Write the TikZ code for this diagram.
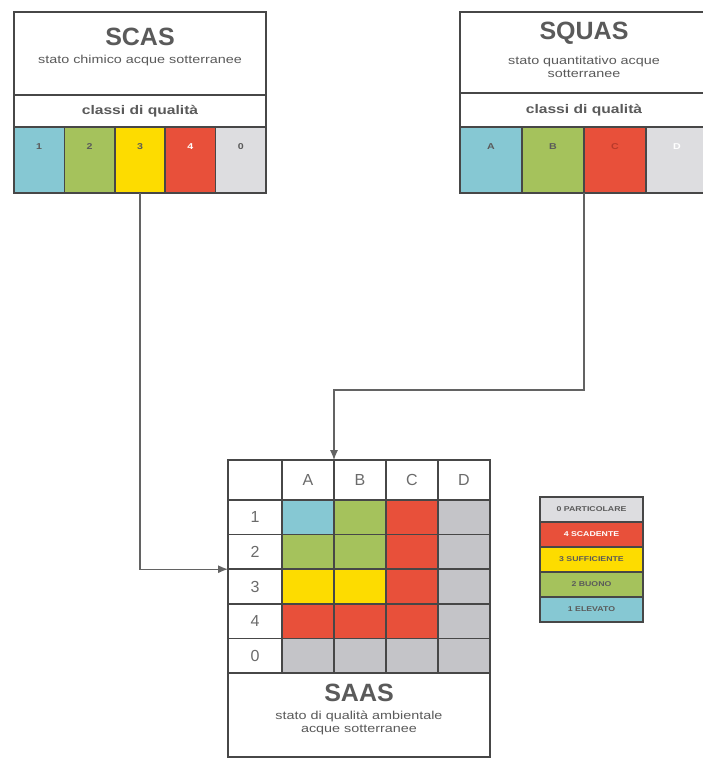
\documentclass[tikz,border=0pt]{standalone}
\usepackage{fontspec}
\setmainfont{Liberation Sans}
\newfontfamily\widefont[FakeStretch=1.25]{Liberation Sans}
\usetikzlibrary{arrows.meta}

\definecolor{celeste}{HTML}{86C8D3}
\definecolor{verde}{HTML}{A5C25C}
\definecolor{giallo}{HTML}{FDDC00}
\definecolor{rosso}{HTML}{E8503A}
\definecolor{grigio}{HTML}{DDDDE0}
\definecolor{grigiog}{HTML}{C4C4C8}
\definecolor{bordo}{HTML}{474747}
\definecolor{testo}{HTML}{5A5A5A}
\definecolor{rossoscuro}{HTML}{B83A2A}

\tikzset{
  cella/.style={draw=bordo, line width=1.6pt, fill=#1, anchor=north west, inner sep=0pt, outer sep=0pt},
  cella/.default=white,
  titolo/.style={font=\fontsize{25}{28}\selectfont\bfseries, text=testo, inner sep=0pt},
  sotto/.style={font=\widefont\fontsize{11.5}{13.5}\selectfont, text=testo, align=center, inner sep=0pt},
  banda/.style={font=\widefont\fontsize{12.5}{14}\selectfont\bfseries, text=testo},
  classe/.style={font=\widefont\fontsize{8.5}{9}\selectfont\bfseries, text height=22pt, text depth=44pt},
  griglia/.style={font=\fontsize{16}{18}\selectfont, text=testo!90},
  voce/.style={font=\widefont\fontsize{7}{8}\selectfont\bfseries, line width=1.2pt},
  freccia/.style={draw=bordo!85, line width=1.1pt, -{Latex[length=10pt,width=8pt]}}
}

\begin{document}
\begin{tikzpicture}[x=1pt, y=-1pt]
  \fill[white] (0,0) rectangle (703,760);
  \useasboundingbox (0,0) rectangle (703,760);

  % SCAS
  \node[cella, minimum width=252pt, minimum height=83pt] (scas) at (14,12) {};
  \node[cella, banda, minimum width=252pt, minimum height=32pt] (scasq) at (14,95) {classi di qualità};
  \foreach \lab/\col/\tc [count=\i] in {1/celeste/testo, 2/verde/testo, 3/giallo/testo, 4/rosso/white, 0/grigio/testo}
    \node[cella=\col, classe, text=\tc, minimum width=50.4pt] (s\i) at ({14+50.4*(\i-1)},127) {\lab};
  \node[titolo] (scast) at (140,37) {SCAS};
  \node[sotto] (scass) at (140,61) {stato chimico acque sotterranee};

  % SQUAS
  \node[cella, minimum width=248pt, minimum height=81pt] (squas) at (460,12) {};
  \node[cella, banda, minimum width=248pt, minimum height=34pt] (squasq) at (460,93) {classi di qualità};
  \foreach \lab/\col/\tc [count=\i] in {A/celeste/testo, B/verde/testo, C/rosso/rossoscuro, D/grigio/white}
    \node[cella=\col, classe, text=\tc, minimum width=62pt] (q\i) at ({460+62*(\i-1)},127) {\lab};
  \node[titolo] (squast) at (584,33) {SQUAS};
  \node[sotto] (squass) at (584,67) {stato quantitativo acque\\sotterranee};

  % SAAS
  \node[cella, minimum width=54pt, minimum height=40pt] (h0) at (228,460) {};
  \foreach \lab [count=\i] in {A,B,C,D}
    \node[cella, griglia, minimum width=52pt, minimum height=40pt] (h\lab) at ({282+52*(\i-1)},460) {\lab};
  \foreach \lab/\ca/\cb/\cc/\cd [count=\i] in {1/celeste/verde/rosso/grigiog, 2/verde/verde/rosso/grigiog,
      3/giallo/giallo/rosso/grigiog, 4/rosso/rosso/rosso/grigiog, 0/grigiog/grigiog/grigiog/grigiog} {
    \node[cella, griglia, minimum width=54pt, minimum height=34.6pt] (r\lab) at (228,{500+34.6*(\i-1)}) {\lab};
    \foreach \col [count=\j] in {\ca,\cb,\cc,\cd}
      \node[cella=\col, minimum width=52pt, minimum height=34.6pt] (g\lab\j) at ({282+52*(\j-1)},{500+34.6*(\i-1)}) {};
  }
  \node[cella, minimum width=262pt, minimum height=84pt] (saas) at (228,673) {};
  \node[titolo] (saast) at (359,693) {SAAS};
  \node[sotto] (saass) at (359,723) {stato di qualità ambientale\\acque sotterranee};
  \draw[bordo, line width=2.6pt] (h0.north west) rectangle (saas.south east);

  % legenda
  \foreach \lab/\col/\tc [count=\i] in {0 PARTICOLARE/grigio/testo, 4 SCADENTE/rosso/white,
      3 SUFFICIENTE/giallo/testo, 2 BUONO/verde/testo, 1 ELEVATO/celeste/testo}
    \node[cella=\col, voce, text=\tc, minimum width=103pt, minimum height=25pt] (l\i) at (540,{497+25*(\i-1)}) {\lab};

  \draw[freccia] (s3.south) |- (r3.north west);
  \draw[freccia] (q2.south east) -- ++(0,197) -| (hA.north east);
\end{tikzpicture}
\end{document}
